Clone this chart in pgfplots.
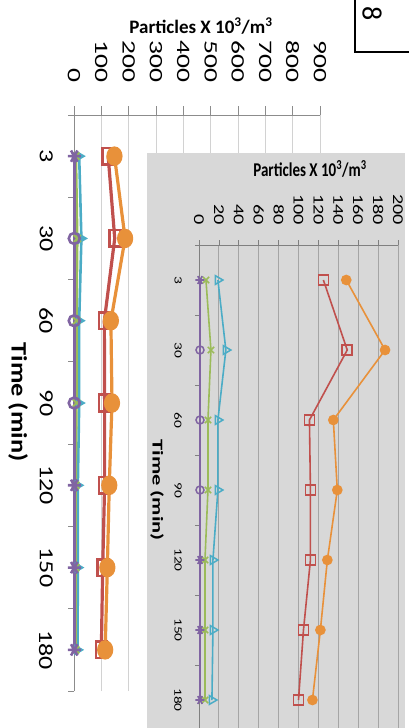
\documentclass[border=0pt]{standalone}
\usepackage{pgfplots}
\usepackage{pgfplotstable}
\pgfplotsset{compat=1.18}
\usepackage{fontspec}
\setmainfont{Carlito}
% condensed-looking digits are drawn with a stretched Carlito
\newfontfamily\mainTickFont[FakeStretch=1.45]{Carlito}
\newfontfamily\mainCatFont[FakeStretch=1.3]{Carlito}
\newfontfamily\insetTickFont[FakeStretch=1.35]{Carlito}
\newfontfamily\insetCatFont[FakeStretch=1.4]{Carlito}
\newfontfamily\mainTimeFont[FakeStretch=1.2]{Carlito}
\newfontfamily\insetTimeFont[FakeStretch=1.5]{Carlito}

\definecolor{sOrange}{HTML}{E8913A}
\definecolor{sRed}{HTML}{C0504D}
\definecolor{sCyan}{HTML}{4BACC6}
\definecolor{sGreen}{HTML}{9BBB59}
\definecolor{sPurple}{HTML}{8064A2}
\definecolor{panelGray}{RGB}{216,216,216}
\definecolor{gridLight}{RGB}{210,210,210}
\definecolor{gridDark}{RGB}{165,165,165}

% particle counts (x 10^3 per m^3); idx = -position of the time category
\pgfplotstableread{
idx orange red cyan green purple
0   148 125 19  7 1
-1  187 149 27 12 1
-2  135 111 19  9 1
-3  139 112 19  9 1
-4  129 112 14  6 1
-5  122 105 14  6 1
-6  114 100 13  6 1
}\particles

\begin{document}
\begin{tikzpicture}[x=1pt,y=1pt]
\useasboundingbox (0,0) rectangle (409,-728);
\clip (0,0) rectangle (409,-728);

% ---------------- full-scale chart ----------------
\begin{axis}[
  at={(74pt,-691pt)}, anchor=south west,
  scale only axis, width=246pt, height=576pt,
  xmin=0, xmax=900, ymin=-6.5, ymax=0.5,
  axis x line=top, axis y line=left,
  axis line style={-, draw=black!45, line width=0.9pt},
  x axis line style={-}, y axis line style={-},
  /pgf/number format/assume math mode=true,
  xtick={0,100,...,900},
  ytick={-6,-5,...,0},
  yticklabels={180,150,120,90,60,30,3},
  minor ytick={-6.5,-5.5,...,0.5},
  tick align=outside,
  major tick length=9pt, minor tick length=6pt,
  major y tick style={draw=none},
  xtick style={draw=black!45, line width=0.9pt},
  minor y tick style={draw=black!45, line width=0.9pt},
  xmajorgrids,
  major grid style={draw=gridLight, line width=1pt},
  xticklabel style={rotate=-90, anchor=east, inner sep=0pt,
    font=\mainTickFont\fontsize{19}{19}\selectfont},
  xticklabel shift=23pt,
  yticklabel style={rotate=-90, anchor=north, inner sep=0pt,
    font=\mainCatFont\fontsize{20}{20}\selectfont},
  yticklabel shift=12pt,
  clip=false,
]
\addplot[sRed, line width=3.2pt, mark=square, mark size=5.5pt,
  mark options={fill=white, line width=2.6pt, yscale=1.5}]
  table[x=red, y=idx] {\particles};
\addplot[sOrange, line width=3.2pt, mark=*, mark size=6.5pt,
  mark options={yscale=1.25}]
  table[x=orange, y=idx] {\particles};
\addplot[sCyan, line width=2.6pt, mark=triangle*, mark size=4pt,
  mark options={rotate=-90}]
  table[x=cyan, y=idx] {\particles};
\addplot[sGreen, line width=2.6pt, mark=x, mark size=5pt,
  mark options={line width=2pt}]
  table[x=green, y=idx] {\particles};
\addplot[sPurple, line width=2.8pt, no marks]
  table[x=purple, y=idx] {\particles};
\addplot[sPurple, only marks, mark=asterisk, mark size=6.5pt,
  mark options={line width=2.6pt, rotate=90},
  skip coords between index={1}{4}]
  table[x=purple, y=idx] {\particles};
\addplot[sPurple, only marks, mark=o, mark size=5.5pt,
  mark options={fill=white, line width=2.6pt},
  skip coords between index={0}{1}, skip coords between index={4}{7}]
  table[x=purple, y=idx] {\particles};
\end{axis}

\node[font=\bfseries\fontsize{19}{19}\selectfont, inner sep=0pt]
  at (201,-26) {Particles X 10\textsuperscript{3}/m\textsuperscript{3}};
\node[font=\mainTimeFont\bfseries\fontsize{22}{22}\selectfont, inner sep=0pt,
  rotate=-90] at (18,-402) {Time (min)};

% ---------------- detail panel ----------------
\fill[panelGray] (147,-153) rectangle (405,-740);

\begin{axis}[
  at={(199pt,-735pt)}, anchor=south west,
  scale only axis, width=199pt, height=490pt,
  xmin=0, xmax=200, ymin=-6.5, ymax=0.5,
  axis x line=top, axis y line=left,
  axis line style={-, draw=black!50, line width=0.8pt},
  x axis line style={-}, y axis line style={-},
  /pgf/number format/assume math mode=true,
  xtick={0,20,...,200},
  ytick={-6,-5,...,0},
  yticklabels={180,150,120,90,60,30,3},
  minor ytick={-6.5,-5.5,...,0.5},
  tick align=outside,
  major tick length=5pt, minor tick length=4pt,
  major y tick style={draw=none},
  xtick style={draw=black!50, line width=0.8pt},
  minor y tick style={draw=black!50, line width=0.8pt},
  xmajorgrids,
  major grid style={draw=gridDark, line width=0.9pt},
  xticklabel style={rotate=-90, anchor=east, inner sep=0pt,
    font=\insetTickFont\fontsize{15}{15}\selectfont},
  xticklabel shift=15pt,
  yticklabel style={rotate=-90, anchor=north, inner sep=0pt,
    font=\insetCatFont\fontsize{11}{11}\selectfont},
  yticklabel shift=12pt,
  clip=false,
]
\addplot[sRed, line width=1.6pt, mark=square, mark size=5pt,
  mark options={fill=white, line width=1.6pt}]
  table[x=red, y=idx] {\particles};
\addplot[sOrange, line width=1.6pt, mark=*, mark size=4.5pt]
  table[x=orange, y=idx] {\particles};
\addplot[sCyan, line width=1.6pt, mark=triangle, mark size=5pt,
  mark options={rotate=-90, fill=white, line width=1.5pt}]
  table[x=cyan, y=idx] {\particles};
\addplot[sGreen, line width=1.6pt, mark=x, mark size=4.5pt,
  mark options={line width=1.5pt}]
  table[x=green, y=idx] {\particles};
\addplot[sPurple, line width=1.6pt, no marks]
  table[x=purple, y=idx] {\particles};
\addplot[sPurple, only marks, mark=asterisk, mark size=4.5pt,
  mark options={line width=1.6pt, rotate=90},
  skip coords between index={1}{4}]
  table[x=purple, y=idx] {\particles};
\addplot[sPurple, only marks, mark=o, mark size=4pt,
  mark options={fill=white, line width=1.5pt},
  skip coords between index={0}{1}, skip coords between index={4}{7}]
  table[x=purple, y=idx] {\particles};
\end{axis}

\node[font=\bfseries\fontsize{15}{15}\selectfont, inner sep=0pt, yscale=1.3]
  at (310,-169) {Particles X 10\textsuperscript{3}/m\textsuperscript{3}};
\node[font=\insetTimeFont\bfseries\fontsize{15}{15}\selectfont, inner sep=0pt,
  rotate=-90] at (157,-490) {Time (min)};

% page number box in the corner
\draw[line width=2.8pt] (355,5) -- (355,-52) -- (415,-52);
\node[font=\fontsize{28}{28}\selectfont, inner sep=0pt, rotate=-90]
  at (372,-14) {8};
\end{tikzpicture}
\end{document}
